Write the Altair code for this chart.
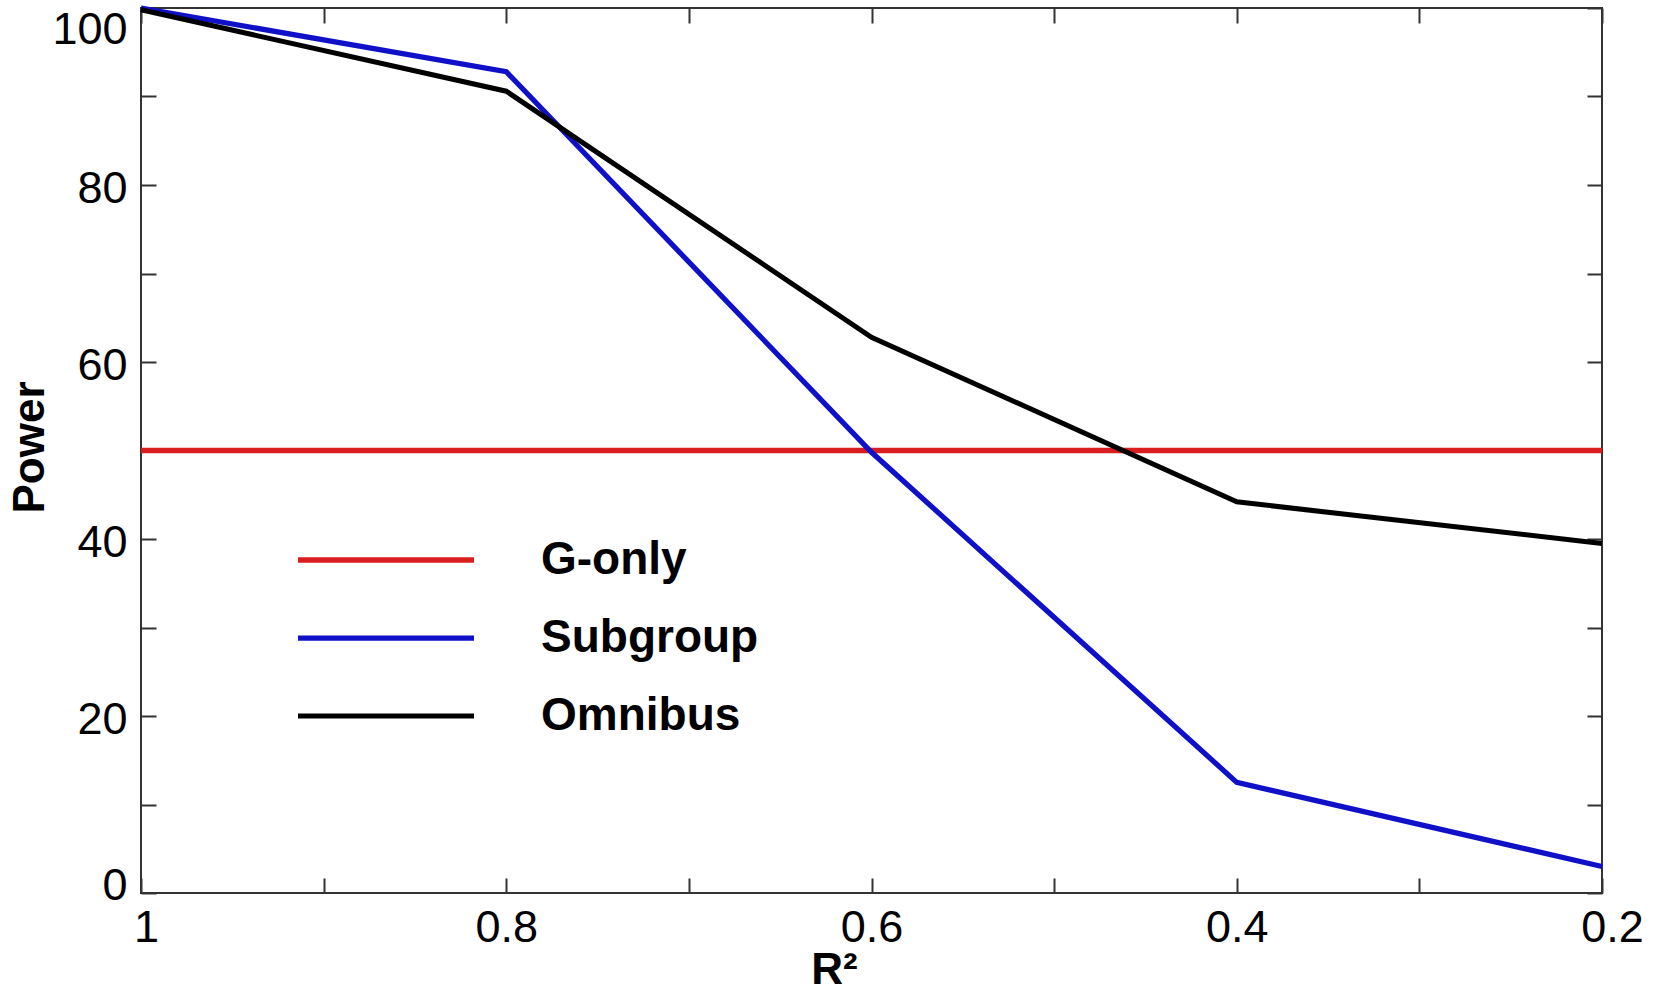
import altair as alt
import pandas as pd

# ---- data ----
r2_values = [1.0, 0.8, 0.6, 0.4, 0.2]
gonly_power = [50.0, 50.0, 50.0, 50.0, 50.0]
subgroup_power = [100.0, 92.8, 49.8, 12.5, 3.0]
omnibus_power = [99.8, 90.6, 62.8, 44.2, 39.5]

series_names = ["G-only", "Subgroup", "Omnibus"]
series_colors = ["#d81e1e", "#1010c8", "#000000"]
series_widths = [5.5, 5, 4.5]

x_label_values = [1.0, 0.8, 0.6, 0.4, 0.2]
x_tick_values = [1.0, 0.9, 0.8, 0.7, 0.6, 0.5, 0.4, 0.3, 0.2]
y_label_values = [0, 20, 40, 60, 80, 100]
y_tick_values = [0, 10, 20, 30, 40, 50, 60, 70, 80, 90, 100]

rows = []
for name, vals in zip(series_names, [gonly_power, subgroup_power, omnibus_power]):
    for i, (x, y) in enumerate(zip(r2_values, vals)):
        rows.append({"series": name, "r2": x, "power": y, "idx": i})
df = pd.DataFrame(rows)

FONT = "Liberation Sans"
W, H = 1461, 885
xscale = alt.Scale(domain=[0.2, 1.0], reverse=True, nice=False, zero=False)
yscale = alt.Scale(domain=[0, 100], nice=False, zero=False)

main_x_axis = alt.Axis(
    orient="bottom", values=x_label_values, ticks=False, domain=False, grid=False,
    labelExpr="datum.value == 1 ? '1' : format(datum.value, '.1f')",
    labelFont=FONT, labelFontSize=45, labelColor="#000", labelPadding=12,
    labelOffset={"condition": [{"test": "datum.value == 1", "value": 5},
                               {"test": "datum.value < 0.25", "value": 10}], "value": 0},
    labelFlush=False, labelOverlap=False, labelBound=False,
    title="R²", titleFont=FONT, titleFontSize=44, titleFontWeight="bold", titleColor="#000",
    titleX=693, titleY=90, titleAlign="center", titleBaseline="alphabetic", titleAnchor="start",
)
main_y_axis = alt.Axis(
    orient="left", values=y_label_values, ticks=False, domain=False, grid=False,
    labelFont=FONT, labelFontSize=45, labelColor="#000", labelPadding=14,
    labelOffset={"condition": [{"test": "datum.value == 100", "value": 21},
                               {"test": "datum.value == 0", "value": -8}], "value": 3},
    labelFlush=False, labelOverlap=False, labelBound=False,
    title="Power", titleFont=FONT, titleFontSize=44, titleFontWeight="bold", titleColor="#000",
    titleX=-98, titleY=439, titleAngle=270, titleAlign="center", titleBaseline="alphabetic",
)

legend = alt.Legend(
    orient="none", legendX=154, legendY=527, title=None, symbolType="stroke",
    symbolSize=30976, symbolStrokeWidth=5, labelFont=FONT, labelFontSize=46,
    labelFontWeight="bold", labelColor="#000", labelOffset=64, labelLimit=500,
    rowPadding=28, padding=0, clipHeight=50, symbolOffset=0,
)

lines = alt.Chart(df).mark_line(strokeCap="butt", strokeJoin="miter").encode(
    x=alt.X("r2:Q", scale=xscale, axis=main_x_axis),
    y=alt.Y("power:Q", scale=yscale, axis=main_y_axis),
    color=alt.Color("series:N", scale=alt.Scale(domain=series_names, range=series_colors),
                    sort=series_names, legend=legend),
    strokeWidth=alt.StrokeWidth("series:N", scale=alt.Scale(domain=series_names, range=series_widths),
                                legend=None),
    order=alt.Order("idx:Q"),
)


def tick_axis(orient, vals):
    return alt.Axis(orient=orient, offset=-15, values=vals, tickSize=15, tickWidth=2,
                    tickColor="#333", labels=False, domain=False, grid=False, title=None)


ticks_bl = alt.Chart(df).mark_point(opacity=0, size=1).encode(
    x=alt.X("r2:Q", scale=xscale, axis=tick_axis("bottom", x_tick_values)),
    y=alt.Y("power:Q", scale=yscale, axis=tick_axis("left", y_tick_values)),
)
ticks_tr = alt.Chart(df).mark_point(opacity=0, size=1).encode(
    x=alt.X("r2:Q", scale=xscale, axis=tick_axis("top", x_tick_values)),
    y=alt.Y("power:Q", scale=yscale, axis=tick_axis("right", y_tick_values)),
)

chart = alt.layer(ticks_bl, ticks_tr, lines).resolve_axis(
    x="independent", y="independent"
).properties(
    width=W, height=H,
    autosize=alt.AutoSizeParams(type="none"),
    padding={"left": 141, "top": 8, "right": 59, "bottom": 100},
    background="white",
).configure_view(stroke="#333", strokeWidth=2)

chart.save("out.html", embed_options={"renderer": "svg", "actions": False})
